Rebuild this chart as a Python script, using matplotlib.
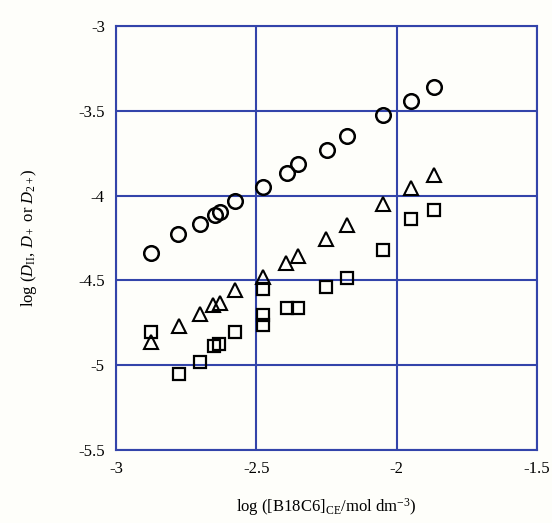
import matplotlib
matplotlib.use("Agg")
import matplotlib.pyplot as plt

# D_II (circles)
x_circ = [-2.876, -2.778, -2.701, -2.647, -2.630, -2.576, -2.475, -2.392, -2.351, -2.249, -2.176, -2.050, -1.950, -1.867]
y_circ = [-4.337, -4.229, -4.166, -4.112, -4.098, -4.034, -3.951, -3.866, -3.812, -3.729, -3.647, -3.524, -3.439, -3.357]
# D_+ (triangles)
x_tri = [-2.876, -2.776, -2.701, -2.653, -2.630, -2.576, -2.475, -2.395, -2.351, -2.252, -2.176, -2.050, -1.950, -1.867]
y_tri = [-4.863, -4.769, -4.696, -4.647, -4.635, -4.557, -4.478, -4.396, -4.357, -4.259, -4.171, -4.049, -3.955, -3.881]
# D_2+ (squares)
x_sq = [-2.876, -2.776, -2.701, -2.651, -2.632, -2.576, -2.475, -2.475, -2.475, -2.392, -2.351, -2.252, -2.176, -2.050, -1.950, -1.867]
y_sq = [-4.804, -5.053, -4.984, -4.886, -4.873, -4.804, -4.553, -4.704, -4.763, -4.666, -4.666, -4.539, -4.484, -4.322, -4.141, -4.086]

xticks = [-3, -2.5, -2, -1.5]
xtick_labels = ["-3", "-2.5", "-2", "-1.5"]
yticks = [-5.5, -5, -4.5, -4, -3.5, -3]
ytick_labels = ["-5.5", "-5", "-4.5", "-4", "-3.5", "-3"]

plt.rcParams['font.family'] = ['Liberation Serif', 'DejaVu Serif']
plt.rcParams['mathtext.fontset'] = 'custom'
plt.rcParams['mathtext.rm'] = 'Liberation Serif'
plt.rcParams['mathtext.it'] = 'Liberation Serif:italic'

bg = '#fefefa'
grid_c = '#3344aa'
fig = plt.figure(figsize=(5.52, 5.23), dpi=100, facecolor=bg)
ax = fig.add_axes([0.210, 0.140, 0.763, 0.810], facecolor=bg)

ax.plot(x_circ, y_circ, linestyle='none', marker='o', markersize=10.5,
        markerfacecolor='none', markeredgecolor='black', markeredgewidth=1.8)
ax.plot(x_tri, y_tri, linestyle='none', marker='^', markersize=10.5,
        markerfacecolor='none', markeredgecolor='black', markeredgewidth=1.5)
ax.plot(x_sq, y_sq, linestyle='none', marker='s', markersize=8,
        markerfacecolor='none', markeredgecolor='black', markeredgewidth=1.6)

ax.set_xlim(-3, -1.5)
ax.set_ylim(-5.5, -3)
ax.set_xticks(xticks)
ax.set_xticklabels(xtick_labels)
ax.set_yticks(yticks)
ax.set_yticklabels(ytick_labels)
ax.tick_params(length=0, labelsize=12, pad=8)
ax.grid(True, color=grid_c, linewidth=1.5)
ax.set_axisbelow(True)
for s in ax.spines.values():
    s.set_color(grid_c)
    s.set_linewidth(1.5)

ax.set_xlabel(r"log ([B18C6]$_{\rm CE}$/mol dm$^{-3}$)", fontsize=12, labelpad=14)
ax.set_ylabel(r"log ($D_{\rm II}$, $D_+$ or $D_{2+}$)", fontsize=12, labelpad=28)

fig.savefig("out.png", dpi=100, facecolor=bg)
